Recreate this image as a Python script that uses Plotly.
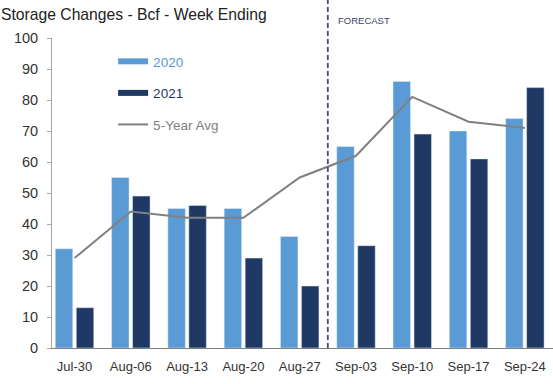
import plotly.graph_objects as go

weeks = ["Jul-30", "Aug-06", "Aug-13", "Aug-20", "Aug-27", "Sep-03", "Sep-10", "Sep-17", "Sep-24"]
y2020 = [32, 55, 45, 45, 36, 65, 86, 70, 74]
y2021 = [13, 49, 46, 29, 20, 33, 69, 61, 84]
avg5 = [29, 44, 42, 42, 55, 62, 81, 73, 71]
yticks = [0, 10, 20, 30, 40, 50, 60, 70, 80, 90, 100]

C20 = "#5B9BD5"
C21 = "#1F3864"
CAVG = "#808080"
FONT = "Liberation Sans"
idx = list(range(len(weeks)))

fig = go.Figure()
fig.add_trace(go.Bar(x=idx, y=y2020, name="2020", marker_color=C20, showlegend=False))
fig.add_trace(go.Bar(x=idx, y=y2021, name="2021", marker_color=C21, showlegend=False))
fig.add_trace(go.Scatter(x=idx, y=avg5, name="5-Year Avg", mode="lines",
                         line=dict(color=CAVG, width=2), showlegend=False))
# legend entries
fig.add_trace(go.Scatter(x=[None], y=[None], mode="lines", line=dict(color=C20, width=6),
                         name=f"<span style='color:{C20}'>2020</span>", legendgroup="a"))
fig.add_trace(go.Scatter(x=[None], y=[None], mode="lines", line=dict(color=C21, width=6),
                         name=f"<span style='color:{C21}'>2021</span>", legendgroup="b"))
fig.add_trace(go.Scatter(x=[None], y=[None], mode="lines", line=dict(color=CAVG, width=2),
                         name=f"<span style='color:{CAVG}'>5-Year Avg</span>", legendgroup="c"))

fig.add_shape(type="line", xref="x", yref="paper", x0=4.5, x1=4.5, y0=0, y1=1.125,
              line=dict(color="#44546A", width=1.8, dash="5px,3px"))
fig.add_annotation(text="FORECAST", xref="x", yref="paper", x=4.64, y=1 + 17/310,
                   xanchor="left", yanchor="middle", showarrow=False,
                   font=dict(family=FONT, size=9.5, color="#3C4463"))
fig.add_annotation(text="Storage Changes - Bcf - Week Ending", xref="paper", yref="paper",
                   x=-53/501, y=1 + 24/310, xanchor="left", yanchor="middle", showarrow=False,
                   font=dict(family=FONT, size=15.7, color="#222222"))

fig.update_layout(
    width=553, height=384,
    margin=dict(l=52, r=0, t=38, b=36),
    paper_bgcolor="white", plot_bgcolor="white",
    barmode="group", bargap=0.254, bargroupgap=0.167,
    font=dict(family=FONT, color="#333333"),
    showlegend=True,
    legend=dict(x=0.122, y=0.974, xanchor="left", yanchor="top",
                bgcolor="rgba(0,0,0,0)", font=dict(size=13.5, family=FONT),
                tracegroupgap=11, itemwidth=30),
    xaxis=dict(range=[-0.4, 8.5], tickvals=idx, ticktext=weeks,
               showline=True, linecolor="#7F7F7F", linewidth=1, ticks="",
               ticklabelstandoff=6,
               tickfont=dict(size=13, color="#333333"), showgrid=False, zeroline=False),
    yaxis=dict(range=[0, 100], tickvals=yticks, showline=True, linecolor="#A6A6A6",
               linewidth=1, ticks="outside", ticklen=4, tickcolor="#A6A6A6",
               ticklabelstandoff=6,
               tickfont=dict(size=14.5, color="#333333"), showgrid=False, zeroline=False),
)

fig.write_html("out.html", config={"displayModeBar": False},
               post_script="document.body.style.margin='0';")
